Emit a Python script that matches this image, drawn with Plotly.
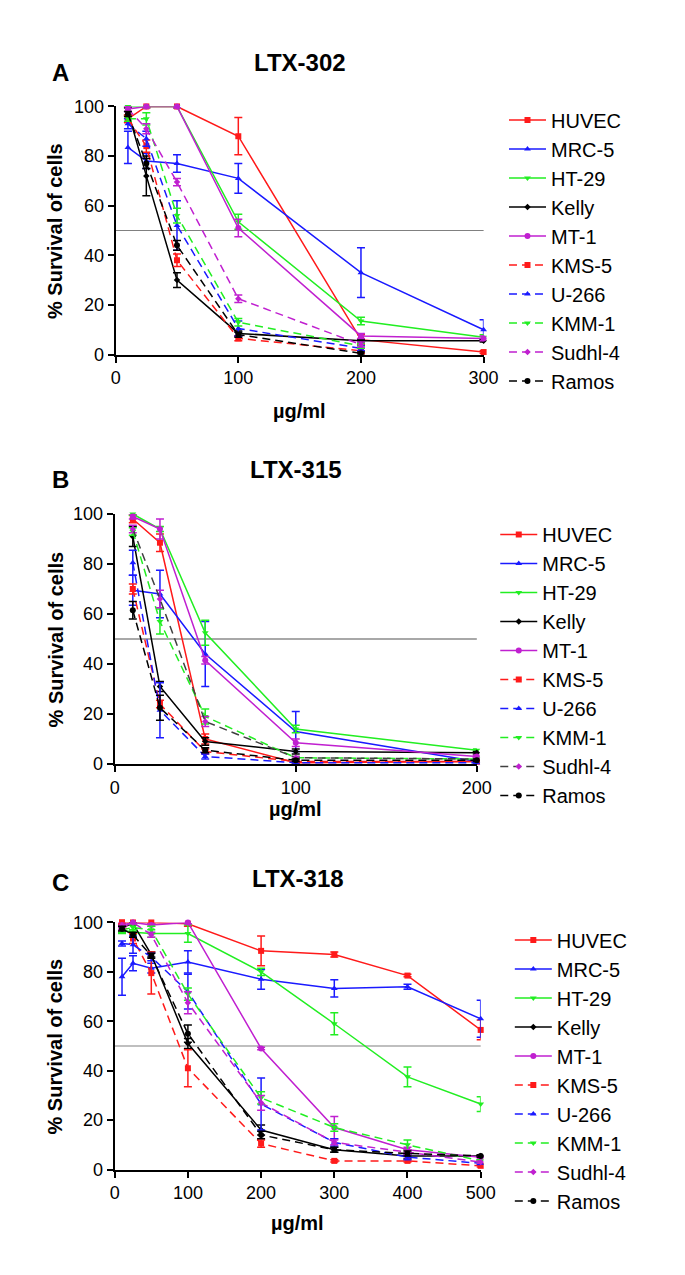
import plotly.graph_objects as go

# ---------------- data ----------------
series_names = ["HUVEC", "MRC-5", "HT-29", "Kelly", "MT-1",
                "KMS-5", "U-266", "KMM-1", "Sudhl-4", "Ramos"]

conc_A = [10, 25, 50, 100, 200, 300]
conc_B = [10, 25, 50, 100, 200]
conc_C = [10, 25, 50, 100, 200, 300, 400, 500]

xticks_A = [0, 100, 200, 300]
xticks_B = [0, 100, 200]
xticks_C = [0, 100, 200, 300, 400, 500]
yticks = [0, 20, 40, 60, 80, 100]

# LTX-302
vals_A = {
    "HUVEC":   [95, 100, 100, 88, 6, 1],
    "MRC-5":   [83.5, 78, 77, 71, 33, 10],
    "HT-29":   [100, 100, 100, 53.5, 13.5, 7],
    "Kelly":   [98, 72, 30, 8.5, 5.5, 5.5],
    "MT-1":    [99, 100, 100, 51, 7.5, 6.5],
    "KMS-5":   [95, 84, 38, 6.5, 1.5, None],
    "U-266":   [93, 87, 52, 10.5, 2.5, None],
    "KMM-1":   [95, 95, 56, 13, 3.5, None],
    "Sudhl-4": [99, 91, 69.5, 22.5, 4, None],
    "Ramos":   [97, 77, 44, 8, 0.5, None],
}
err_A = {
    "HUVEC":   [1.5, 0.5, 0.5, 7.5, 2, 0.5],
    "MRC-5":   [6.5, 3, 3.5, 6, 10, 4],
    "HT-29":   [0.5, 0.5, 0.5, 3, 1.5, 1],
    "Kelly":   [1.5, 8, 3, 1, 0.5, 0.5],
    "MT-1":    [1, 0.5, 0.5, 3.5, 1, 1],
    "KMS-5":   [1.5, 2.5, 2.5, 1, 1, 0],
    "U-266":   [2, 3, 10, 3, 1, 0],
    "KMM-1":   [1, 2.5, 3, 1.5, 1, 0],
    "Sudhl-4": [1, 2, 1.5, 1.5, 1, 0],
    "Ramos":   [1, 2, 2, 1, 0.5, 0],
}

# LTX-315
vals_B = {
    "HUVEC":   [98, 88.5, 10, 0.5, 1],
    "MRC-5":   [69.5, 68, 44, 13, 1],
    "HT-29":   [100, 94, 52.5, 14, 5.5],
    "Kelly":   [91, 31, 9, 5, 4.5],
    "MT-1":    [99, 94, 41.5, 8.5, 3],
    "KMS-5":   [70, 24, 5, 1, 1],
    "U-266":   [80.5, 21.5, 3, 0.5, 0.5],
    "KMM-1":   [93, 57, 19, 2.5, 2],
    "Sudhl-4": [94, 66, 17, 2.5, 2],
    "Ramos":   [61.5, 22.5, 5.5, 1.5, 1.5],
}
err_B = {
    "HUVEC":   [1.5, 3.5, 2, 0.5, 0.5],
    "MRC-5":   [6, 9.5, 13, 8, 0.5],
    "HT-29":   [0.5, 1, 5, 1.5, 0.5],
    "Kelly":   [4, 2, 1.5, 1, 0.5],
    "MT-1":    [1, 4, 1.5, 1.5, 0.5],
    "KMS-5":   [2, 1.5, 1, 0.5, 0.5],
    "U-266":   [5, 11, 1, 0.5, 0.5],
    "KMM-1":   [1.5, 5, 3, 0.5, 0.5],
    "Sudhl-4": [1.5, 3.5, 2, 0.5, 0.5],
    "Ramos":   [3.5, 5, 1, 0.5, 0.5],
}

# LTX-318
vals_C = {
    "HUVEC":   [100, 100, 100, 99.5, 88.5, 87, 78.5, 56.5],
    "MRC-5":   [78, 83.5, 81.5, 84, 77, 73.3, 74, 61],
    "HT-29":   [97, 96, 95.5, 95.5, 80, 59, 37.5, 26.5],
    "Kelly":   [98, 99.5, 87, 51, 16, 8, 5.5, 5.5],
    "MT-1":    [98, 100, 99, 100, 49, 17, 8, 5],
    "KMS-5":   [100, 93.5, 79.5, 41, 10.5, 3.5, 3.5, 1.5],
    "U-266":   [91.5, 91, 86, 72, 26.5, 11, 5, 2.5],
    "KMM-1":   [97, 98, 97, 71, 29, 17, 10, 3.5],
    "Sudhl-4": [99, 100, 95, 67.5, 27, 11, 7, 3],
    "Ramos":   [97.5, 95, 86.5, 55, 14, 8, 6.5, 5.5],
}
err_C = {
    "HUVEC":   [0.5, 0.5, 0.5, 1, 6, 1, 0.5, 4],
    "MRC-5":   [7.5, 3, 2, 4.5, 4, 3.5, 1, 7.5],
    "HT-29":   [1.5, 1, 1.5, 3.5, 1.5, 4.5, 4, 3],
    "Kelly":   [1, 0.5, 1, 2, 2, 1, 1, 0.5],
    "MT-1":    [1, 0.5, 0.5, 0.5, 0.5, 4.5, 1, 0.5],
    "KMS-5":   [0.5, 2, 8.5, 7.5, 1.5, 0.5, 0.5, 0.5],
    "U-266":   [1, 3.5, 1.5, 7, 10.5, 1.5, 1, 0.5],
    "KMM-1":   [1, 1, 1.5, 2.5, 2.5, 1.5, 2, 0.5],
    "Sudhl-4": [1, 0.5, 1, 4.5, 3, 1, 1, 0.5],
    "Ramos":   [1, 1, 1, 3.5, 1.5, 1, 1, 0.5],
}

panel_titles = ["LTX-302", "LTX-315", "LTX-318"]
panel_letters = ["A", "B", "C"]

# ---------------- styles ----------------
RED, BLUE, GREEN, BLACK, PURPLE = "#ff1a1a", "#1a1aff", "#22ee22", "#000000", "#c020d0"
DARK = "#404040"
style = {
    "HUVEC":   dict(color=RED, dash="solid", symbol="square", size=6),
    "MRC-5":   dict(color=BLUE, dash="solid", symbol="triangle-up", size=6),
    "HT-29":   dict(color=GREEN, dash="solid", symbol="triangle-down", size=6),
    "Kelly":   dict(color=BLACK, dash="solid", symbol="diamond", size=5),
    "MT-1":    dict(color=PURPLE, dash="solid", symbol="circle", size=6),
    "KMS-5":   dict(color=RED, dash="8px,5px", symbol="square", size=6),
    "U-266":   dict(color=BLUE, dash="8px,5px", symbol="triangle-up", size=6),
    "KMM-1":   dict(color=GREEN, dash="8px,5px", symbol="triangle-down", size=6),
    "Sudhl-4": dict(color=PURPLE, dash="8px,5px", symbol="diamond", size=5),
    "Ramos":   dict(color=BLACK, dash="8px,5px", symbol="circle", size=6),
}
# in panel B the Sudhl-4 line is drawn dark with purple markers
line_color_override = {1: {"Sudhl-4": DARK}}

FONT = "Liberation Sans, Arial, Helvetica, sans-serif"
W, H = 685, 1275

# plot-area pixel boxes (left, right, top, bottom)
boxes = [(114, 493, 98, 350), (113, 486, 512, 766), (113, 490, 927, 1178)]
legend_pos = [(514, 92), (505, 513), (520, 925)]
title_y = [53, 467, 882]
letter_y = [63, 477, 886]
xtitle_y = [407, 812, 1232]

fig = go.Figure()
panels = [(conc_A, vals_A, err_A, xticks_A),
          (conc_B, vals_B, err_B, xticks_B),
          (conc_C, vals_C, err_C, xticks_C)]

for i, (conc, vals, errs, xt) in enumerate(panels):
    ax = "" if i == 0 else str(i + 1)
    leg = "legend" if i == 0 else f"legend{i+1}"
    for name in series_names:
        st = style[name]
        lc = line_color_override.get(i, {}).get(name, st["color"])
        fig.add_trace(go.Scatter(
            x=conc, y=vals[name], name=name, mode="lines+markers",
            xaxis="x" + ax, yaxis="y" + ax, legend=leg,
            line=dict(color=lc, width=1.5, dash=st["dash"]),
            marker=dict(symbol=st["symbol"], size=st["size"], color=st["color"]),
            error_y=dict(type="data", array=errs[name], color=st["color"],
                         thickness=1.5, width=4),
            cliponaxis=False,
        ))
    l, r, t, b = boxes[i]
    axis_common = dict(showline=True, linecolor="black", linewidth=2,
                       ticks="outside", ticklen=6, tickwidth=1.5, tickcolor="black",
                       showgrid=False, zeroline=False,
                       tickfont=dict(family=FONT, size=18, color="black"))
    fig.update_layout(**{
        "xaxis" + ax: dict(domain=[l / W, r / W], range=[0, xt[-1]], tickvals=xt,
                           anchor="y" + ax, **axis_common),
        "yaxis" + ax: dict(domain=[1 - b / H, 1 - t / H], range=[0, 100], tickvals=yticks,
                           anchor="x" + ax, **axis_common),
        leg: dict(x=legend_pos[i][0] / W, y=1 - legend_pos[i][1] / H,
                  xanchor="left", yanchor="top", bgcolor="rgba(0,0,0,0)",
                  font=dict(family=FONT, size=20, color="black"),
                  itemwidth=37, tracegroupgap=0),
    })
    fig.add_shape(type="line", xref=f"x{ax} domain", yref="y" + ax,
                  x0=0, x1=1, y0=50, y1=50, layer="below",
                  line=dict(color="#808080" if i != 1 else "#a8a8a8",
                            width=1.2 if i != 1 else 1.8))
    cx = (l + r) / 2 / W
    ann = dict(xref="paper", yref="paper", showarrow=False,
               xanchor="center", yanchor="middle")
    fig.add_annotation(text=f"<b>{panel_titles[i]}</b>", x=cx, y=1 - title_y[i] / H,
                       font=dict(family=FONT, size=24, color="black"), **ann)
    fig.add_annotation(text=f"<b>{panel_letters[i]}</b>", x=57 / W, y=1 - letter_y[i] / H,
                       font=dict(family=FONT, size=24, color="black"), **ann)
    fig.add_annotation(text="<b>µg/ml</b>", x=cx, y=1 - xtitle_y[i] / H,
                       font=dict(family=FONT, size=20, color="black"), **ann)
    fig.add_annotation(text="<b>% Survival of cells</b>", x=52 / W, y=1 - (t + b) / 2 / H,
                       textangle=-90, font=dict(family=FONT, size=20, color="black"), **ann)

fig.update_layout(width=W, height=H, margin=dict(l=0, r=0, t=0, b=0, pad=0),
                  paper_bgcolor="white", plot_bgcolor="white", showlegend=True,
                  font=dict(family=FONT, color="black"))

fig.write_html("out.html", config={"displayModeBar": False},
               post_script="document.body.style.margin='0';"
                           "document.body.style.overflow='hidden';")
